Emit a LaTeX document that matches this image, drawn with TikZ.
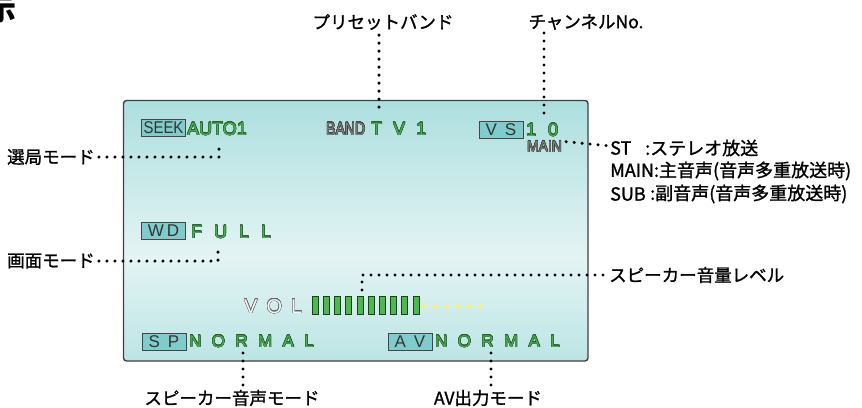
\documentclass[tikz,border=0pt]{standalone}
\usepackage{fontspec}
\usepackage{graphicx}
\setmainfont{Noto Sans CJK JP}
\newfontfamily\jpfont{Noto Sans CJK JP}[BoldFont={Noto Sans CJK JP}, BoldFeatures={FakeBold=1.3}]
\newfontfamily\titlefont{Noto Sans CJK JP}
\newfontfamily\lcd{Liberation Sans}
\usepackage{contour}
\contourlength{0.35pt}
\contournumber{16}
\definecolor{scrtop}{HTML}{7FCDCD}
\definecolor{scrmid}{HTML}{E4F4F4}
\definecolor{scrbot}{HTML}{8AD1D1}
\definecolor{tagfill}{HTML}{80CCCC}
\definecolor{lcdgreen}{HTML}{45B04F}
\definecolor{lcdline}{HTML}{2F5A32}
\definecolor{bargreen}{HTML}{4DB84D}
\definecolor{barline}{HTML}{1F3F1F}
\definecolor{yellowdot}{HTML}{F6F07A}
\pgfdeclareverticalshading{scrshade}{100bp}{color(0bp)=(scrbot); color(45bp)=(scrmid); color(100bp)=(scrtop)}
\newcommand\lcdg[1]{\contour{lcdline}{\textcolor{lcdgreen}{#1}}}
\newcommand\lcdgray[1]{\contour{black!75}{\textcolor{black!50}{#1}}}
\newcommand\lcdhollow[1]{\contour{black!60}{\textcolor{white!92!gray}{#1}}}
\begin{document}
\begin{tikzpicture}[x=1pt,y=-1pt,
 dotline/.style={line width=3.3pt, line cap=round, dash pattern=on 0pt off 8pt, black},
 lbl/.style={inner sep=0pt, font=\jpfont\bfseries\fontsize{17.5}{20}\selectfont},
 rlbl/.style={inner sep=0pt, anchor=west, font=\jpfont\bfseries\fontsize{18}{20}\selectfont},
 lcdtxt/.style={inner sep=0pt, anchor=base west, font=\lcd\fontsize{18}{20}\selectfont},
 tagbox/.style={draw=gray!55!black, fill=tagfill, line width=0.8pt, inner sep=0pt,
   minimum width=44pt, minimum height=17pt, font=\lcd\fontsize{17}{20}\selectfont, text=black!80}
]
\useasboundingbox (0,0) rectangle (862,407);
\begin{scope}
\clip (0,0) rectangle (862,407);
\node[inner sep=0pt, anchor=base, font=\titlefont\bfseries\fontsize{30}{30}\selectfont] (title) at (2,20) {示};
\end{scope}

% screen
\draw[draw=black!75, line width=1.4pt, rounded corners=3pt, shading=scrshade] (123.5,100.5) rectangle (588,361);

% top row
\node[tagbox] (seek) at (163.5,128) {\scalebox{0.88}[1]{SEEK}};
\node[lcdtxt] (auto) at (187,135) {\lcdg{AUTO1}};
\node[lcdtxt] (band) at (326,135) {\scalebox{0.78}[1]{\lcdgray{BAND}}};
\node[lcdtxt] (tv) at (371,135) {\lcdg{T\hspace{11pt}V\hspace{11pt}1}};
\node[tagbox] (vs) at (501,129.5) {V\hspace{8pt}S};
\node[lcdtxt] (ch) at (526,136) {\lcdg{1\hspace{12pt}0}};
\node[lcdtxt, font=\lcd\fontsize{16}{18}\selectfont] (main) at (527,152) {\scalebox{0.87}[1]{\lcdgray{MAIN}}};

% middle
\node[tagbox] (wd) at (163.5,230.5) {W\hspace{3pt}D};
\node[lcdtxt] (full) at (191,238) {\lcdg{F\hspace{12pt}U\hspace{12pt}L\hspace{12pt}L}};

% volume
\node[lcdtxt, font=\lcd\fontsize{20}{22}\selectfont] (vol) at (244,313) {\lcdhollow{V\hspace{9pt}O\hspace{9pt}L}};
\foreach \i in {0,...,9}
  \filldraw[fill=bargreen, draw=barline, line width=0.6pt] (312+11.2*\i,296) rectangle ++(6,18);
\foreach \x in {424,435.3,446.7,458,469,480.3}
  \draw[yellowdot, line width=2pt] (\x-2.6,306.7) -- (\x+2.6,306.7) (\x,304.1) -- (\x,309.3);

% bottom row
\node[tagbox] (sp) at (164,341.5) {S\hspace{8pt}P};
\node[lcdtxt, font=\lcd\fontsize{17}{20}\selectfont] (norm1) at (189,347) {\lcdg{N\hspace{10.4pt}O\hspace{10.4pt}R\hspace{10.4pt}M\hspace{10.4pt}A\hspace{10.4pt}L}};
\node[tagbox] (av) at (410,341.5) {A\hspace{8pt}V};
\node[lcdtxt, font=\lcd\fontsize{17}{20}\selectfont] (norm2) at (435,347) {\lcdg{N\hspace{10.4pt}O\hspace{10.4pt}R\hspace{10.4pt}M\hspace{10.4pt}A\hspace{10.4pt}L}};

% labels
\node[lbl] (preset) at (383,22) {プリセットバンド};
\node[lbl] (chan) at (586,22) {チャンネルNo.};
\node[lbl, anchor=west] (selmode) at (7,157) {選局モード};
\node[lbl, anchor=west] (scrmode) at (7,261) {画面モード};
\node[lbl, anchor=west] (vollbl) at (609,275) {スピーカー音量レベル};
\node[lbl] (spklbl) at (232,398) {スピーカー音声モード};
\node[lbl] (avlbl) at (488,398) {AV出力モード};
\node[rlbl] (stl) at (610,148) {ST};
\node[rlbl] (stt) at (645,148) {:ステレオ放送};
\node[rlbl] (mainl) at (610,171) {MAIN:主音声(音声多重放送時)};
\node[rlbl] (subl) at (610,194) {SUB};
\node[rlbl] (subt) at (650,194) {:副音声(音声多重放送時)};

% connector points
\coordinate (tvtop) at (379,114);
\coordinate (chtop) at (544,116);
\coordinate (autobot) at (219,142);
\coordinate (autobend) at (219,157);
\coordinate (fullbot) at (218,245);
\coordinate (fullbend) at (218,261);
\coordinate (volbar) at (362,291);
\coordinate (volbend) at (362,275);
\coordinate (spbot) at (243,353);
\coordinate (avbot) at (491,353);

% connectors
\draw[dotline] (tvtop |- preset.south) ++(0,5) -- (tvtop);
\draw[dotline] (chtop |- chan.south) ++(0,3) -- (chtop);
\draw[dotline] (selmode.east) ++(4,0) -- (autobend) -- (autobot);
\draw[dotline] (scrmode.east) ++(4,0) -- (fullbend) -- (fullbot);
\draw[dotline] (vollbl.west) ++(-6,0) -- (volbend) -- (volbar);
\draw[dotline] (spbot) -- (spbot |- spklbl.north) ++(0,-4);
\draw[dotline] (avbot) -- (avbot |- avlbl.north) ++(0,-4);
\draw[dotline] (main.east) ++(4,-5) -- (stl.west |- 0,146) ++(-6,0);
\end{tikzpicture}
\end{document}
